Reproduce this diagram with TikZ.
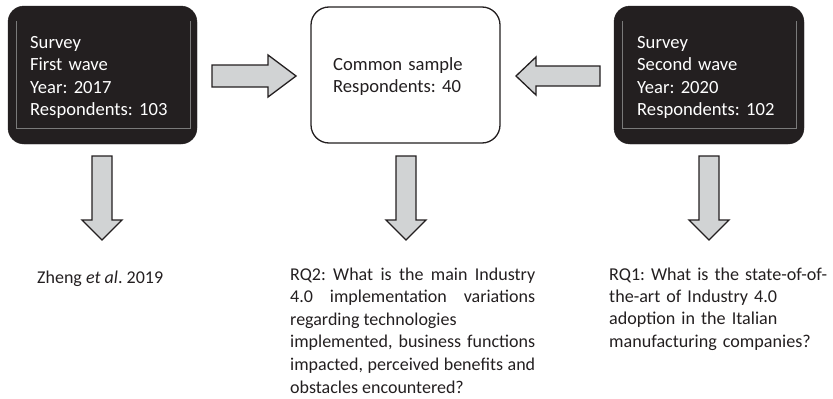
\documentclass[tikz,border=0pt]{standalone}
\usepackage{fontspec}
\setmainfont{Carlito}
\definecolor{boxdark}{HTML}{231F20}
\definecolor{arrowgray}{HTML}{D1D3D4}
\definecolor{innerline}{HTML}{7A7A7A}
\begin{document}
\frenchspacing
\begin{tikzpicture}[x=1pt,y=-1pt,
  darkbox/.style={fill=boxdark, draw=boxdark, rounded corners=16pt},
  lightbox/.style={fill=white, draw=boxdark, line width=1.3pt, rounded corners=18pt},
  inner/.style={draw=innerline, line width=0.5pt},
  boxtext/.style={text=white, font=\fontsize{18.6}{22.5}\selectfont\frenchspacing, inner sep=0pt, anchor=base west, text width=180pt, align=left},
  midtext/.style={text=boxdark, font=\fontsize{18.6}{22.2}\selectfont\frenchspacing, inner sep=0pt, anchor=base west, text width=160pt, align=left},
  bottext/.style={text=boxdark, font=\fontsize{18}{22.6}\selectfont\frenchspacing, inner sep=0pt, anchor=base west},
  blockarrow/.style={fill=arrowgray, draw=boxdark, line width=1.3pt, line join=miter}
]
\useasboundingbox (0,0) rectangle (833,399);

% boxes
\draw[darkbox] (8,6) rectangle (197,144);
\draw[inner] (16,21) -- (16,128) -- (190,128) -- (190,21);
\draw[lightbox] (311,7) rectangle (500,143);
\draw[darkbox] (614,6) rectangle (804,144);
\draw[inner] (622,21) -- (622,128) -- (796,128) -- (796,21);

% box texts
\node[boxtext] (wave1) at (30,48) {Survey\\First wave\\Year: 2017\\Respondents: 103};
\node[midtext] (common) at (333,70) {Common sample\\Respondents: 40};
\node[boxtext] (wave2) at (637,48) {Survey\\Second wave\\Year: 2020\\Respondents: 102};

% horizontal block arrows
\draw[blockarrow] (212,65) -- (268,65) -- (268,55) -- (296,76) -- (268,97) -- (268,87) -- (212,87) -- cycle;
\draw[blockarrow] (600,66) -- (536,66) -- (536,57) -- (516,76) -- (536,95) -- (536,86) -- (600,86) -- cycle;

% vertical block arrows
\foreach \cx in {102,406,709}{
  \draw[blockarrow] (\cx-10,156) -- (\cx+10,156) -- (\cx+10,220) -- (\cx+20,220) -- (\cx,240) -- (\cx-20,220) -- (\cx-10,220) -- cycle;
}

% bottom texts
\node[bottext] (zheng) at (37,283) {Zheng \textit{et al}. 2019};
\node[bottext, text width=245pt, align=justify] (rq2) at (290,280)
  {RQ2: What is the main Industry\linebreak 4.0 implementation variations\linebreak regarding technologies\newline implemented, business functions\linebreak impacted, perceived benefits and\linebreak obstacles encountered?};
\node[bottext, font=\fontsize{18.1}{22.4}\selectfont\frenchspacing, text width=222pt, align=left] (rq1) at (609,280)
  {RQ1: What is the state-of-of-\\the-art of Industry 4.0\\adoption in the Italian\\manufacturing companies?};
\end{tikzpicture}
\end{document}
